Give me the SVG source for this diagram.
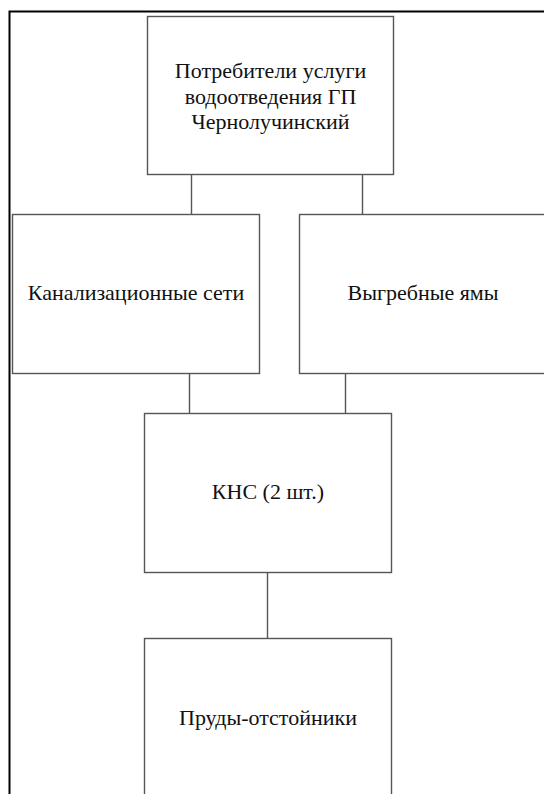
<svg xmlns="http://www.w3.org/2000/svg" width="544" height="794" viewBox="0 0 544 794">
<style>
.box{fill:#fff;stroke:#555;stroke-width:1.4}
.con{stroke:#555;stroke-width:1.4;fill:none}
.t{font-family:'Liberation Serif','DejaVu Serif','Times New Roman',serif;font-size:22px;fill:#111;text-anchor:middle}
</style>
<rect x="0" y="0" width="544" height="794" fill="#fff"/>
<path d="M9.5 794 V11.5 H544" fill="none" stroke="#000" stroke-width="2"/>
<g id="connectors">
<line class="con" x1="191.5" y1="174" x2="191.5" y2="214"/>
<line class="con" x1="362.5" y1="174" x2="362.5" y2="214"/>
<line class="con" x1="189.5" y1="373" x2="189.5" y2="413"/>
<line class="con" x1="345.5" y1="373" x2="345.5" y2="413"/>
<line class="con" x1="267.5" y1="572" x2="267.5" y2="638"/>
</g>
<g id="consumers">
<rect class="box" x="147.5" y="16.5" width="246" height="158"/>
<text class="t" x="270.5" y="78">Потребители услуги</text>
<text class="t" x="270.5" y="103.5">водоотведения ГП</text>
<text class="t" x="270.5" y="129">Чернолучинский</text>
</g>
<g id="sewer">
<rect class="box" x="12.5" y="214.5" width="247" height="159"/>
<text class="t" x="136" y="300">Канализационные сети</text>
</g>
<g id="cesspits">
<rect class="box" x="299.5" y="214.5" width="247" height="159"/>
<text class="t" x="423" y="300">Выгребные ямы</text>
</g>
<g id="kns">
<rect class="box" x="144.5" y="413.5" width="247" height="159"/>
<text class="t" x="268" y="499">КНС (2 шт.)</text>
</g>
<g id="ponds">
<rect class="box" x="144.5" y="638.5" width="247" height="170"/>
<text class="t" x="268" y="725">Пруды-отстойники</text>
</g>
</svg>
